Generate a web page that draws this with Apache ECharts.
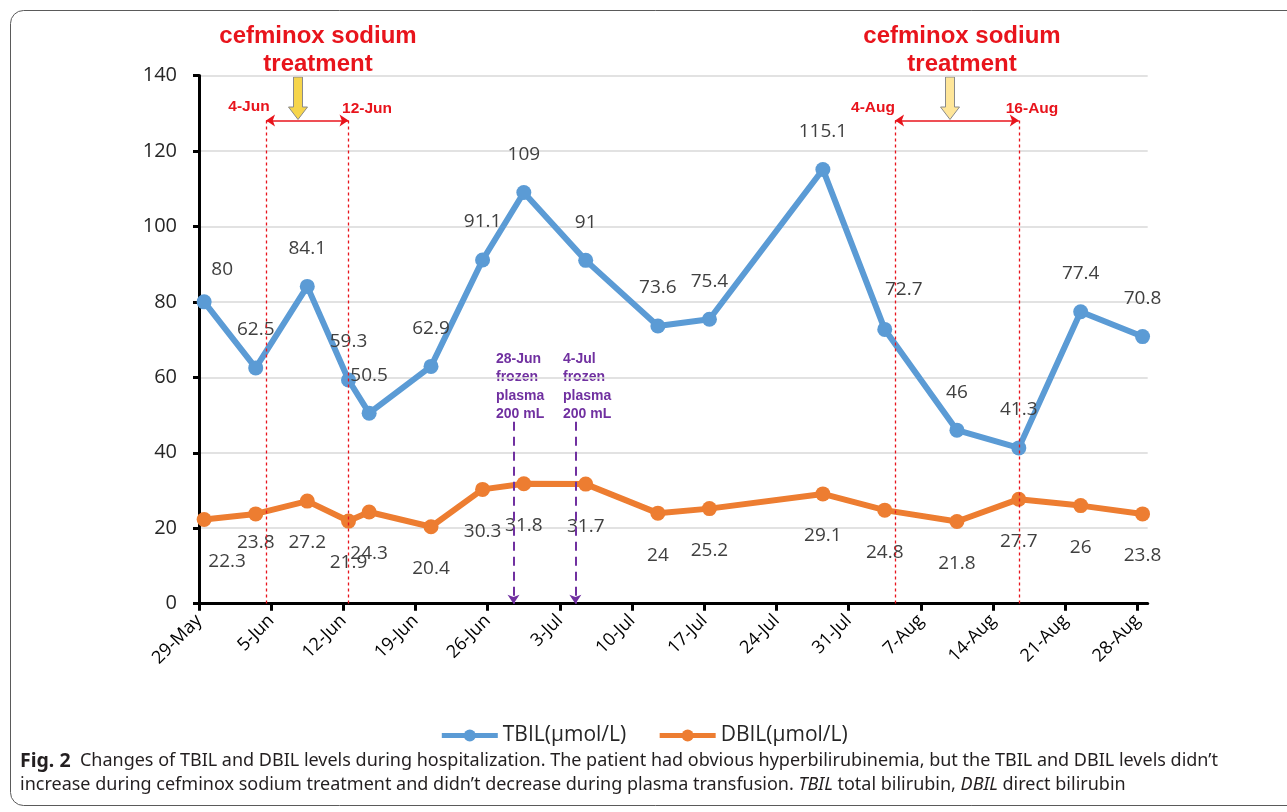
<!DOCTYPE html>
<html>
<head>
<meta charset="utf-8">
<title>TBIL and DBIL during hospitalization</title>
<script src="https://cdn.jsdelivr.net/npm/echarts@6/dist/echarts.min.js"></script>
<style>
  html, body { margin: 0; padding: 0; background: #fff; }
  #chart { width: 1287px; height: 812px; }
</style>
</head>
<body>
<div id="chart"></div>
<script>
// sampling dates (year is not given in the figure)
const dates = ['2021-05-29', '2021-06-03', '2021-06-08', '2021-06-12', '2021-06-14', '2021-06-20',
  '2021-06-25', '2021-06-29', '2021-07-05', '2021-07-12', '2021-07-17', '2021-07-28',
  '2021-08-03', '2021-08-10', '2021-08-16', '2021-08-22', '2021-08-28']
const tbil = [80, 62.5, 84.1, 59.3, 50.5, 62.9, 91.1, 109, 91, 73.6, 75.4, 115.1, 72.7, 46, 41.3, 77.4, 70.8]
const dbil = [22.3, 23.8, 27.2, 21.9, 24.3, 20.4, 30.3, 31.8, 31.7, 24, 25.2, 29.1, 24.8, 21.8, 27.7, 26, 23.8]
const tickLabels = ['29-May', '5-Jun', '12-Jun', '19-Jun', '26-Jun', '3-Jul', '10-Jul',
  '17-Jul', '24-Jul', '31-Jul', '7-Aug', '14-Aug', '21-Aug', '28-Aug']
const yTicks = [0, 20, 40, 60, 80, 100, 120, 140]

// cefminox sodium courses and plasma transfusions
const treatments = [['2021-06-04', '2021-06-12'], ['2021-08-04', '2021-08-16']]
const plasma = ['2021-06-28', '2021-07-04']

const DAY = 86400000
const start = Date.parse(dates[0])
// excel date axis: a point sits in the middle of its day
const dayPos = d => (Date.parse(d) - start) / DAY + 0.5

const BLUE = '#5B9BD5'
const ORANGE = '#ED7D31'
const RED = '#E8141C'
const PURPLE = '#7030A0'
const FONT = '"Open Sans", sans-serif'

// hand moved data labels in the original
const tbilNudge = { 0: [18, 6], 12: [19, -2] }
const dbilNudge = { 0: [23, 0], 1: [0, -13] }

const buildData = (values, nudge) => values.map((v, i) => {
  const item = { value: [dayPos(dates[i]), v] }
  if (nudge[i]) item.label = { offset: nudge[i] }
  return item
})

const chart = echarts.init(document.getElementById('chart'))

const topVal = 128.1 // height where the red brackets start
const markData = []
treatments.forEach(([a, b]) => {
  const xa = dayPos(a), xb = dayPos(b)
  markData.push([{ coord: [xa, topVal], symbol: 'none' }, { coord: [xa, 0], symbol: 'none' }])
  markData.push([{ coord: [xb, topVal], symbol: 'none' }, { coord: [xb, 0], symbol: 'none' }])
  markData.push([
    { coord: [xa, topVal], symbol: 'arrow', lineStyle: { type: 'solid', width: 1.5 } },
    { coord: [xb, topVal], symbol: 'arrow' }
  ])
})
plasma.forEach(d => {
  const x = dayPos(d)
  markData.push([
    { coord: [x, 48.2], symbol: 'none', lineStyle: { color: PURPLE, width: 2, type: [9, 6] }, itemStyle: { color: PURPLE } },
    { coord: [x, 0], symbol: 'arrow' }
  ])
})

const yellowArrow = (cx, fill) => ({
  type: 'polygon',
  shape: {
    points: [[cx - 4.5, 77], [cx + 4.5, 77], [cx + 4.5, 107], [cx + 9.5, 107],
      [cx, 119.5], [cx - 9.5, 107], [cx - 4.5, 107]]
  },
  style: { fill, stroke: '#8a8a8a', lineWidth: 1 }
})

const redText = (text, x, y, size) => ({
  type: 'text', x, y,
  style: {
    text, fill: RED, font: 'bold ' + size + 'px "Liberation Sans", Arial',
    textAlign: 'center', textVerticalAlign: 'middle', lineHeight: 28
  }
})

const purpleText = (text, x) => ({
  type: 'text', x, y: 350,
  style: {
    text, fill: PURPLE, font: 'bold 14px "Liberation Sans", Arial',
    textAlign: 'left', textVerticalAlign: 'top', lineHeight: 18.3
  }
})

const option = {
  backgroundColor: '#fff',
  animation: false,
  grid: { left: 199, right: 139.3, top: 75.5, bottom: 208.3 },
  legend: {
    data: ['TBIL(μmol/L)', 'DBIL(μmol/L)'],
    top: 720,
    left: 'center',
    itemWidth: 56,
    itemHeight: 15,
    itemGap: 31,
    lineStyle: { width: 5 },
    textStyle: { fontFamily: FONT, fontSize: 21, color: '#262626' }
  },
  xAxis: {
    type: 'value',
    min: 0,
    max: (tickLabels.length - 1) * 7 + 1,
    axisLine: { lineStyle: { color: '#000', width: 3 } },
    axisTick: { length: 7, lineStyle: { color: '#000', width: 3 }, customValues: tickLabels.map((t, i) => i * 7) },
    splitLine: { show: false },
    axisLabel: {
      customValues: tickLabels.map((t, i) => i * 7),
      formatter: v => tickLabels[Math.round(v / 7)],
      rotate: 45,
      margin: 14,
      fontFamily: FONT,
      fontSize: 18,
      color: '#000'
    }
  },
  yAxis: {
    type: 'value',
    min: yTicks[0],
    max: yTicks[yTicks.length - 1],
    interval: 20,
    axisLine: { show: true, lineStyle: { color: '#000', width: 3 } },
    axisTick: { show: true, length: 6, lineStyle: { color: '#000', width: 3 } },
    splitLine: { lineStyle: { color: '#d9d9d9', width: 1.5 } },
    axisLabel: { margin: 22, fontFamily: FONT, fontSize: 20, color: '#262626' }
  },
  series: [
    {
      name: 'TBIL(μmol/L)',
      type: 'line',
      data: buildData(tbil, tbilNudge),
      symbol: 'circle',
      symbolSize: 15,
      lineStyle: { color: BLUE, width: 6 },
      itemStyle: { color: BLUE },
      label: {
        show: true, position: 'top', distance: 21,
        formatter: p => p.value[1],
        fontFamily: FONT, fontSize: 19, color: '#404040'
      },
      z: 3
    },
    {
      name: 'DBIL(μmol/L)',
      type: 'line',
      data: buildData(dbil, dbilNudge),
      symbol: 'circle',
      symbolSize: 15,
      lineStyle: { color: ORANGE, width: 6 },
      itemStyle: { color: ORANGE },
      label: {
        show: true, position: 'bottom', distance: 25,
        formatter: p => p.value[1],
        fontFamily: FONT, fontSize: 19, color: '#404040'
      },
      z: 3
    },
    {
      name: 'notes',
      type: 'line',
      data: [],
      markLine: {
        silent: true,
        symbolSize: 9,
        label: { show: false },
        lineStyle: { color: RED, width: 1.3, type: [3, 3] },
        itemStyle: { color: RED },
        data: markData
      },
      z: 2
    }
  ],
  graphic: [
    {
      type: 'rect',
      shape: { x: 10.5, y: 10.5, width: 1290, height: 795, r: [13, 0, 0, 13] },
      style: { fill: null, stroke: '#5a5a5a', lineWidth: 1 }
    },
    redText('cefminox sodium\ntreatment', 318, 50.5, 24),
    redText('cefminox sodium\ntreatment', 962, 50.5, 24),
    yellowArrow(298, '#F6D54B'),
    yellowArrow(950, '#FFE699'),
    redText('4-Jun', 249, 107, 15.5),
    redText('12-Jun', 367, 109, 15.5),
    redText('4-Aug', 873, 108, 15.5),
    redText('16-Aug', 1032, 109, 15.5),
    purpleText('28-Jun\nfrozen\nplasma\n200 mL', 496),
    purpleText('4-Jul\nfrozen\nplasma\n200 mL', 563),
    {
      type: 'text', x: 20, y: 749,
      style: {
        text: '{b|Fig. 2}  Changes of TBIL and DBIL levels during hospitalization. The patient had obvious hyperbilirubinemia, but the TBIL and DBIL levels didn\u2019t\n' +
          'increase during cefminox sodium treatment and didn\u2019t decrease during plasma transfusion. {i|TBIL} total bilirubin, {i|DBIL} direct bilirubin',
        fill: '#231f20',
        font: '18px "Noto Sans", sans-serif',
        lineHeight: 24,
        textVerticalAlign: 'top',
        rich: {
          b: { fontWeight: 'bold', fontSize: 19.5, fontFamily: '"Noto Sans", sans-serif', lineHeight: 24, fill: '#231f20' },
          i: { fontStyle: 'italic', fontSize: 18, fontFamily: '"Noto Sans", sans-serif', lineHeight: 24, fill: '#231f20' }
        }
      }
    }
  ]
}

chart.setOption(option)
</script>
</body>
</html>
